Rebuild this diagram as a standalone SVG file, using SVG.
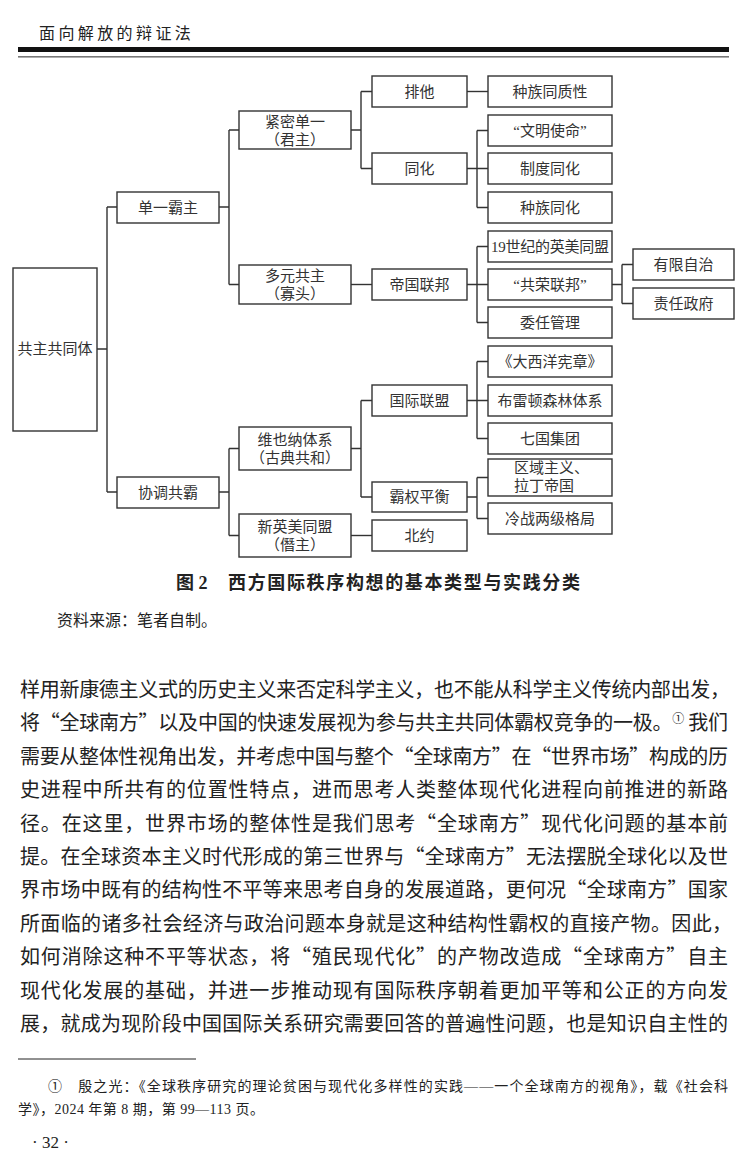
<svg xmlns="http://www.w3.org/2000/svg" width="748" height="1171" viewBox="0 0 748 1171">
<style>
text{font-family:"Liberation Serif","Noto Sans CJK SC",serif;fill:#222}
.bx rect{fill:#fff;stroke:#333;stroke-width:1.4}
.bx text{font-size:15px;text-anchor:middle;dominant-baseline:central;fill:#333}
.cn path{fill:none;stroke:#333;stroke-width:1.4}
.body text{font-size:20px;font-family:"Noto Sans CJK SC","Liberation Serif",sans-serif}
.fn{font-size:14px}
</style>
<rect width="748" height="1171" fill="#fff"/>
<!-- header -->
<text x="39" y="39" style="font-size:16px;letter-spacing:3.4px;fill:#222">面向解放的辩证法</text>
<rect x="18" y="47" width="711" height="5" fill="#111"/>
<rect x="18" y="56" width="711" height="1.6" fill="#777"/>

<!-- connectors -->
<g class="cn" id="connectors">
<path d="M97,349H107M107,207V492M107,207H117M107,492H117"/>
<path d="M219,207H229M229,130V284.5M229,130H239M229,284.5H239"/>
<path d="M219,492H229M229,448.5V535.5M229,448.5H239M229,535.5H239"/>
<path d="M351,130H361M361,91.5V168.5M361,91.5H372M361,168.5H372"/>
<path d="M351,284.5H372"/>
<path d="M351,448.5H361M361,400.5V497M361,400.5H372M361,497H372"/>
<path d="M351,535.5H372"/>
<path d="M467,91.5H488"/>
<path d="M467,168.5H477M477,130.5V207.5M477,130.5H488M477,168.5H488M477,207.5H488"/>
<path d="M467,284.5H477M477,246.5V322.5M477,246.5H488M477,284.5H488M477,322.5H488"/>
<path d="M612,284.5H622M622,264.5V303.5M622,264.5H633M622,303.5H633"/>
<path d="M467,400.5H477M477,361.5V438.5M477,361.5H488M477,400.5H488M477,438.5H488"/>
<path d="M467,497H477M477,477.5V518.5M477,477.5H488M477,518.5H488"/>
</g>

<!-- nodes -->
<g class="bx" id="n-root"><rect x="13" y="268" width="84" height="163"/><text x="55" y="349">共主共同体</text></g>
<g class="bx" id="n-dyby"><rect x="117" y="192" width="102" height="31"/><text x="168" y="207.5">单一霸主</text></g>
<g class="bx" id="n-xtgb"><rect x="117" y="477" width="102" height="31"/><text x="168" y="492.5">协调共霸</text></g>
<g class="bx" id="n-jmdy"><rect x="239" y="111" width="112" height="38"/><text x="295" y="121.5">紧密单一</text><text x="295" y="139.5">（君主）</text></g>
<g class="bx" id="n-dygz"><rect x="239" y="265" width="112" height="39"/><text x="295" y="276">多元共主</text><text x="295" y="294">（寡头）</text></g>
<g class="bx" id="n-wynt"><rect x="239" y="427" width="112" height="43"/><text x="295" y="440">维也纳体系</text><text x="295" y="458">（古典共和）</text></g>
<g class="bx" id="n-xymtm"><rect x="239" y="514" width="112" height="43"/><text x="295" y="527">新英美同盟</text><text x="295" y="545">（僭主）</text></g>
<g class="bx" id="n-pt"><rect x="372" y="76" width="95" height="31"/><text x="419.5" y="91.5">排他</text></g>
<g class="bx" id="n-th"><rect x="372" y="153" width="95" height="31"/><text x="419.5" y="168.5">同化</text></g>
<g class="bx" id="n-dglb"><rect x="372" y="269" width="95" height="31"/><text x="419.5" y="284.5">帝国联邦</text></g>
<g class="bx" id="n-gjlm"><rect x="372" y="385" width="95" height="31"/><text x="419.5" y="400.5">国际联盟</text></g>
<g class="bx" id="n-bqph"><rect x="372" y="482" width="95" height="30"/><text x="419.5" y="497">霸权平衡</text></g>
<g class="bx" id="n-by"><rect x="372" y="520" width="95" height="31"/><text x="419.5" y="535.5">北约</text></g>
<g class="bx" id="n-zztzx"><rect x="488" y="76" width="124" height="31"/><text x="550" y="91.5">种族同质性</text></g>
<g class="bx" id="n-wmsm"><rect x="488" y="115" width="124" height="31"/><text x="550" y="130.5">“文明使命”</text></g>
<g class="bx" id="n-zdth"><rect x="488" y="153" width="124" height="31"/><text x="550" y="168.5">制度同化</text></g>
<g class="bx" id="n-zzth"><rect x="488" y="192" width="124" height="31"/><text x="550" y="207.5">种族同化</text></g>
<g class="bx" id="n-19sj"><rect x="488" y="231" width="124" height="31"/><text x="550" y="246.5" textLength="118" lengthAdjust="spacing">19世纪的英美同盟</text></g>
<g class="bx" id="n-grlb"><rect x="488" y="269" width="124" height="31"/><text x="550" y="284.5">“共荣联邦”</text></g>
<g class="bx" id="n-wrgl"><rect x="488" y="307" width="124" height="31"/><text x="550" y="322.5">委任管理</text></g>
<g class="bx" id="n-dxyxz"><rect x="488" y="346" width="124" height="31"/><text x="550" y="361.5">《大西洋宪章》</text></g>
<g class="bx" id="n-bldsl"><rect x="488" y="385" width="124" height="31"/><text x="550" y="400.5">布雷顿森林体系</text></g>
<g class="bx" id="n-qgjt"><rect x="488" y="423" width="124" height="31"/><text x="550" y="438.5">七国集团</text></g>
<g class="bx" id="n-qyzy"><rect x="488" y="459" width="124" height="37"/><text x="514" y="468" style="text-anchor:start">区域主义、</text><text x="514" y="486" style="text-anchor:start">拉丁帝国</text></g>
<g class="bx" id="n-lzljgj"><rect x="488" y="503" width="124" height="31"/><text x="550" y="518.5">冷战两级格局</text></g>
<g class="bx" id="n-yxzz"><rect x="633" y="249" width="101" height="31"/><text x="683.5" y="264.5">有限自治</text></g>
<g class="bx" id="n-zrzf"><rect x="633" y="288" width="101" height="31"/><text x="683.5" y="303.5">责任政府</text></g>

<!-- caption -->
<text x="176" y="589" style="font-size:18px;font-weight:bold">图 2</text>
<text x="228" y="589" style="font-size:18px;font-weight:bold" textLength="352" lengthAdjust="spacing">西方国际秩序构想的基本类型与实践分类</text>
<text x="57" y="626" style="font-size:16px">资料来源：笔者自制。</text>

<!-- body -->
<g class="body">
<text x="20" y="697" textLength="710" lengthAdjust="spacing">样用新康德主义式的历史主义来否定科学主义，也不能从科学主义传统内部出发，</text>
<text x="20" y="730.4" textLength="708" lengthAdjust="spacing">将“全球南方”以及中国的快速发展视为参与共主共同体霸权竞争的一极。<tspan style="font-size:12px" dy="-7">①</tspan><tspan dy="7"> 我们</tspan></text>
<text x="20" y="763.8" textLength="708" lengthAdjust="spacing">需要从整体性视角出发，并考虑中国与整个“全球南方”在“世界市场”构成的历</text>
<text x="20" y="797.2" textLength="708" lengthAdjust="spacing">史进程中所共有的位置性特点，进而思考人类整体现代化进程向前推进的新路</text>
<text x="20" y="830.6" textLength="708" lengthAdjust="spacing">径。在这里，世界市场的整体性是我们思考“全球南方”现代化问题的基本前</text>
<text x="20" y="864" textLength="708" lengthAdjust="spacing">提。在全球资本主义时代形成的第三世界与“全球南方”无法摆脱全球化以及世</text>
<text x="20" y="897.4" textLength="708" lengthAdjust="spacing">界市场中既有的结构性不平等来思考自身的发展道路，更何况“全球南方”国家</text>
<text x="20" y="930.8" textLength="712" lengthAdjust="spacing">所面临的诸多社会经济与政治问题本身就是这种结构性霸权的直接产物。因此，</text>
<text x="20" y="964.2" textLength="708" lengthAdjust="spacing">如何消除这种不平等状态，将“殖民现代化”的产物改造成“全球南方”自主</text>
<text x="20" y="997.6" textLength="708" lengthAdjust="spacing">现代化发展的基础，并进一步推动现有国际秩序朝着更加平等和公正的方向发</text>
<text x="20" y="1031" textLength="708" lengthAdjust="spacing">展，就成为现阶段中国国际关系研究需要回答的普遍性问题，也是知识自主性的</text>
</g>

<!-- footnote -->
<line x1="18" y1="1059" x2="196" y2="1059" stroke="#222" stroke-width="1"/>
<text class="fn" x="48" y="1091" textLength="680" lengthAdjust="spacing">①　殷之光：《全球秩序研究的理论贫困与现代化多样性的实践——一个全球南方的视角》，载《社会科</text>
<text class="fn" x="18" y="1114" textLength="246" lengthAdjust="spacing">学》，2024 年第 8 期，第 99—113 页。</text>
<text x="32" y="1148" style="font-size:17px">· 32 ·</text>
</svg>
